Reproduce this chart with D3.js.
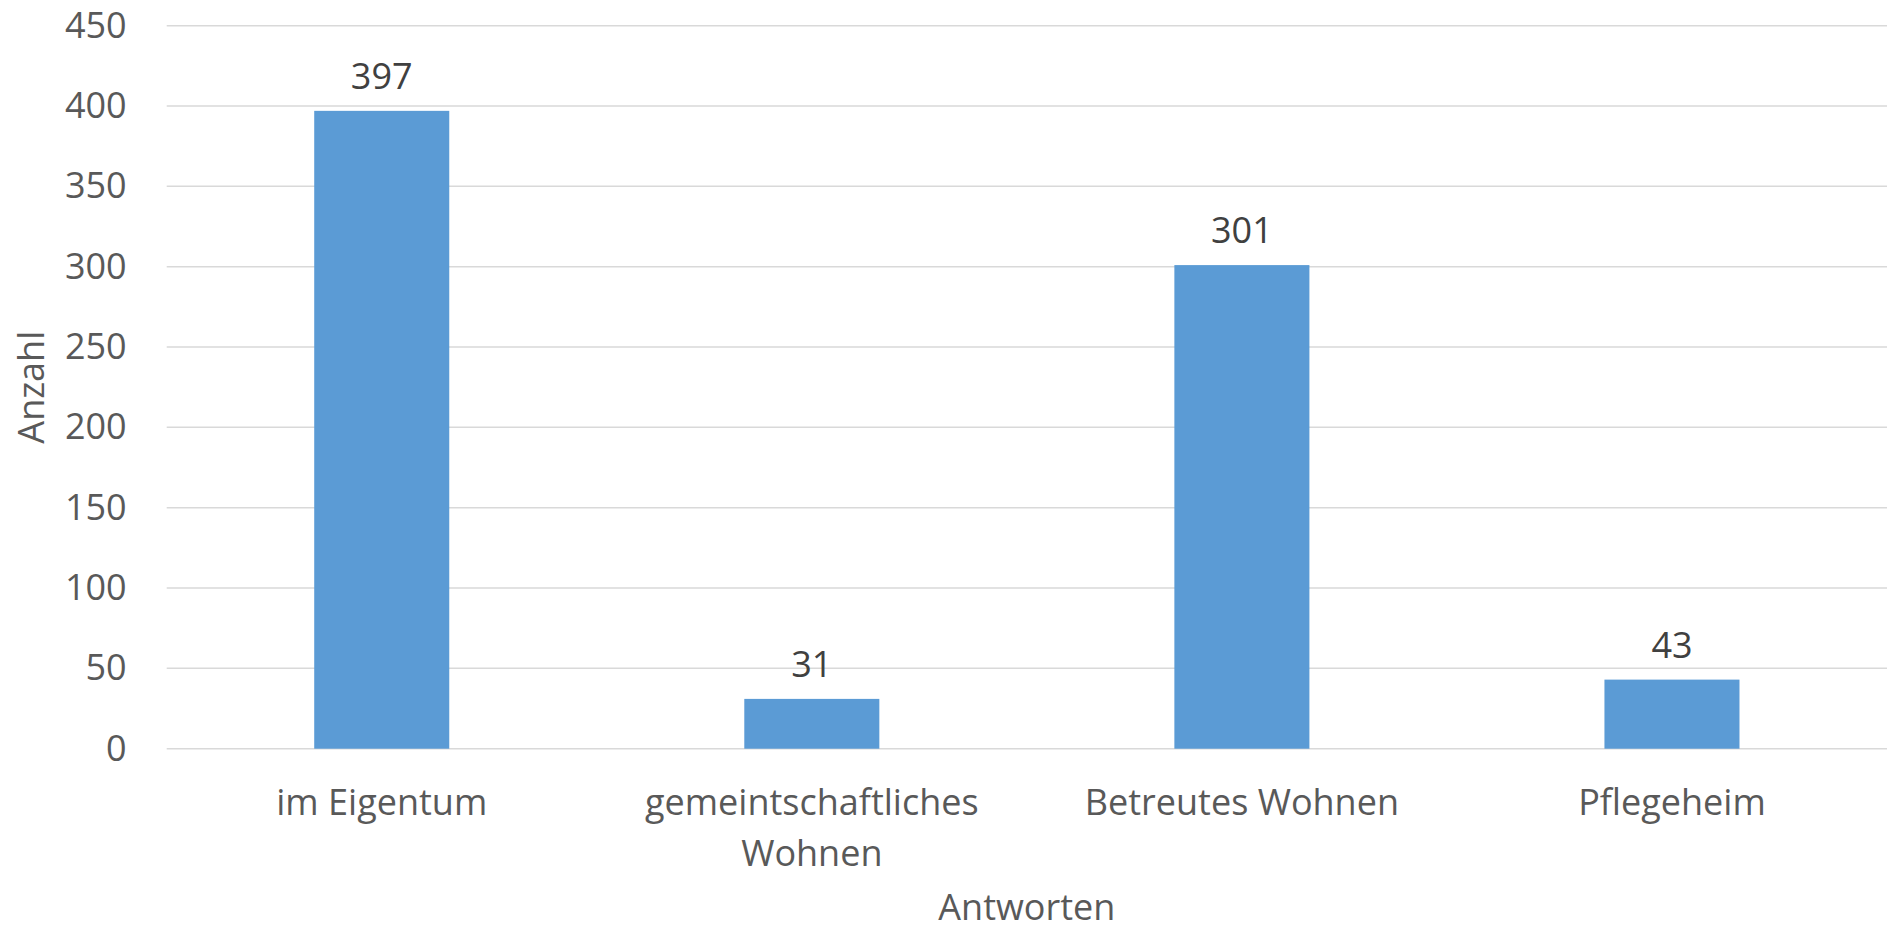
<!DOCTYPE html>
<html>
<head>
<meta charset="utf-8">
<script src="https://cdn.jsdelivr.net/npm/d3@7"></script>
<style>
  body { margin: 0; background: #fff; }
  text { font-family: "Open Sans", "Noto Sans", sans-serif; }
</style>
</head>
<body>
<div id="chart"></div>
<script>
const categories = ['im Eigentum', 'gemeintschaftliches Wohnen', 'Betreutes Wohnen', 'Pflegeheim']
const values = [397, 31, 301, 43]
const yTicks = [0, 50, 100, 150, 200, 250, 300, 350, 400, 450]
const xTitle = 'Antworten'
const yTitle = 'Anzahl'

const width = 1887, height = 932
const margin = { top: 25.7, right: 0, bottom: 183.3, left: 166.7 }
const fontSize = 36

const svg = d3.select('#chart').append('svg')
  .attr('width', width)
  .attr('height', height)

const x = d3.scaleBand()
  .domain(categories)
  .range([margin.left, width - margin.right])
  .paddingInner(0.686)
  .paddingOuter(0.343)

const y = d3.scaleLinear()
  .domain([0, 450])
  .range([height - margin.bottom, margin.top])

// gridlines (incl. the zero line)
svg.append('g')
  .selectAll('line')
  .data(yTicks)
  .join('line')
  .attr('x1', margin.left)
  .attr('x2', width - margin.right)
  .attr('y1', d => y(d))
  .attr('y2', d => y(d))
  .attr('stroke', '#d9d9d9')
  .attr('stroke-width', 1.5)

// y axis labels
const yAxis = svg.append('g')
  .attr('transform', `translate(${margin.left},0)`)
  .call(d3.axisLeft(y).tickValues(yTicks).tickSize(0).tickPadding(40))
yAxis.select('.domain').remove()
yAxis.selectAll('text')
  .attr('fill', '#595959')
  .style('font-size', fontSize + 'px')

// bars
svg.append('g')
  .selectAll('rect')
  .data(values)
  .join('rect')
  .attr('x', (d, i) => x(categories[i]))
  .attr('y', d => y(d))
  .attr('width', x.bandwidth())
  .attr('height', d => y(0) - y(d))
  .attr('fill', '#5b9bd5')

// value labels
svg.append('g')
  .selectAll('text')
  .data(values)
  .join('text')
  .attr('x', (d, i) => x(categories[i]) + x.bandwidth() / 2)
  .attr('y', d => y(d) - 22)
  .attr('text-anchor', 'middle')
  .attr('fill', '#404040')
  .style('font-size', fontSize + 'px')
  .text(d => d)

// x axis labels, wrapped when wider than the band
const step = x.step()
const xAxis = svg.append('g')
  .attr('transform', `translate(0,${y(0)})`)
  .call(d3.axisBottom(x).tickSize(0).tickPadding(0))
xAxis.select('.domain').remove()
xAxis.selectAll('text')
  .attr('fill', '#595959')
  .style('font-size', fontSize + 'px')
  .attr('y', 0)
  .attr('dy', null)
  .each(function (d) {
    const t = d3.select(this)
    const words = d.split(' ')
    t.text(null)
    let lines = [], line = []
    let tspan = t.append('tspan')
    for (const w of words) {
      line.push(w)
      tspan.text(line.join(' '))
      if (tspan.node().getComputedTextLength() > step * 0.92 && line.length > 1) {
        line.pop()
        lines.push(line.join(' '))
        line = [w]
      }
    }
    lines.push(line.join(' '))
    t.text(null)
    lines.forEach((l, i) => {
      t.append('tspan').attr('x', 0).attr('y', 66 + i * 51).text(l)
    })
  })

// axis titles
svg.append('text')
  .attr('x', (margin.left + width - margin.right) / 2)
  .attr('y', 920)
  .attr('text-anchor', 'middle')
  .attr('fill', '#595959')
  .style('font-size', fontSize + 'px')
  .text(xTitle)

svg.append('text')
  .attr('transform', `translate(44,${(y(0) + y(450)) / 2}) rotate(-90)`)
  .attr('text-anchor', 'middle')
  .attr('fill', '#595959')
  .style('font-size', fontSize + 'px')
  .text(yTitle)
</script>
</body>
</html>
